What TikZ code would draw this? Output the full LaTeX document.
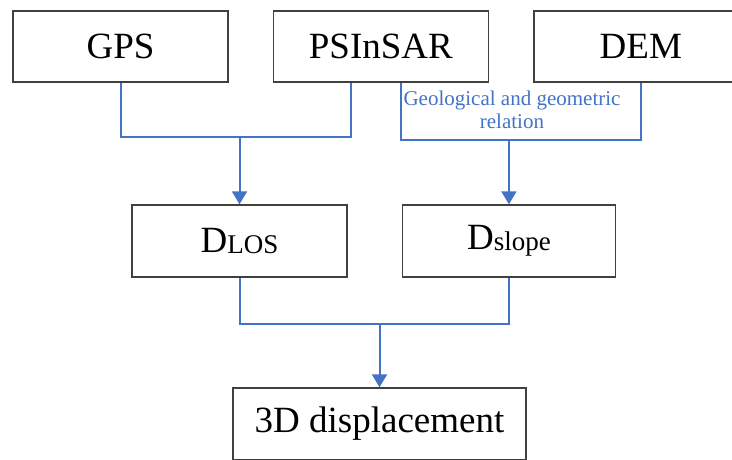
\documentclass[tikz,border=0pt]{standalone}
\usepackage{fontspec}
\setmainfont{Liberation Serif}
\usetikzlibrary{positioning,arrows.meta}
\definecolor{linkblue}{HTML}{4472C4}
\definecolor{boxgray}{HTML}{404040}

\begin{document}
\begin{tikzpicture}[x=1pt,y=1pt,node distance=44pt,
    box/.style={draw=boxgray,line width=1.4pt,minimum height=71pt,inner sep=0pt,
                font=\fontsize{37}{40}\selectfont},
    link/.style={draw=linkblue,line width=2pt},
    linkarrow/.style={link,-{Triangle[width=15pt,length=13pt]}}]
  \useasboundingbox (0,0) rectangle (732,-459);
  \node[box,minimum width=215pt] (gps) at (120.5,-46.5) {GPS};
  \node[box,minimum width=215pt,right=of gps] (psinsar) {PSInSAR};
  \node[box,minimum width=214pt,right=of psinsar] (dem) {DEM};
  \node[box,minimum width=215pt,minimum height=72pt] (dlos) at (239.5,-241)
       {D\raisebox{-1pt}{\fontsize{27}{30}\selectfont LOS}};
  \node[box,minimum width=213pt,minimum height=72pt,right=54pt of dlos] (dslope)
       {D\raisebox{-1pt}{\fontsize{27}{30}\selectfont slope}};
  \node[box,minimum width=293pt,minimum height=72pt] (disp) at (379.5,-424) {3D displacement};
  \node[text=linkblue,align=center,anchor=north,inner sep=0pt,
        font=\fontsize{21}{23}\selectfont] (georel) at (512,-90.5)
       {Geological and geometric\\relation};

  \coordinate (losjoin) at (dlos.north |- 0,-137);
  \coordinate (slopejoin) at (dslope.north |- 0,-140);
  \coordinate (dispjoin) at (disp.north |- 0,-324);

  \draw[link] (gps.south) |- (losjoin) -| ([xshift=-29.5pt]psinsar.south);
  \draw[linkarrow] (losjoin) -- (dlos.north);
  \draw[link] ([xshift=20.5pt]psinsar.south) |- (slopejoin) -| (dem.south);
  \draw[linkarrow] (slopejoin) -- (dslope.north);
  \draw[link] (dlos.south) |- (dispjoin) -| (dslope.south);
  \draw[linkarrow] (dispjoin) -- (disp.north);
\end{tikzpicture}
\end{document}
